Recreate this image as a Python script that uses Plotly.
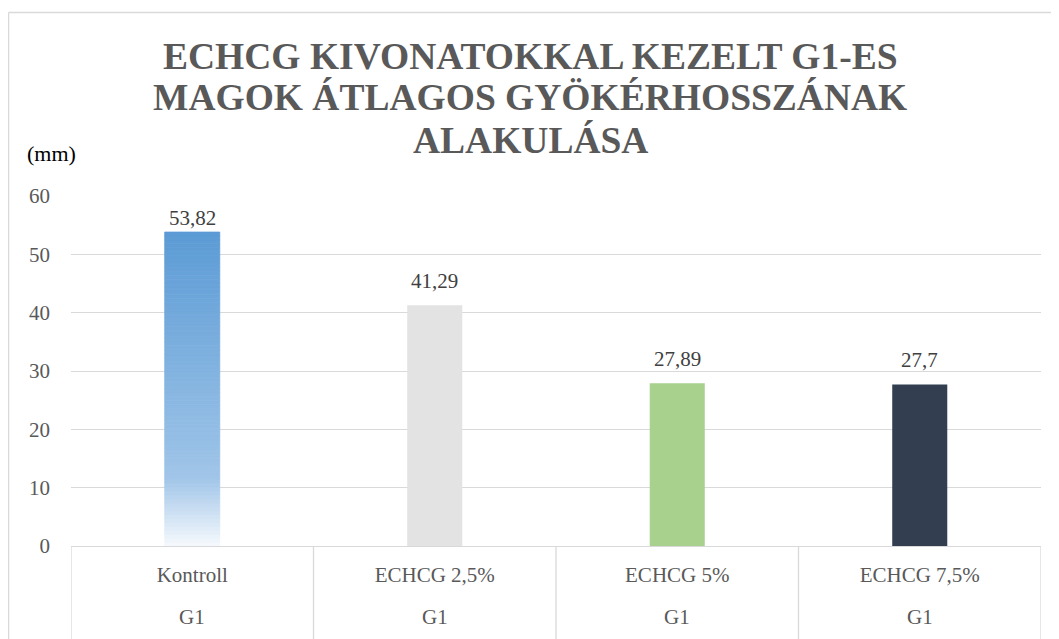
import plotly.graph_objects as go

categories = ["Kontroll", "ECHCG 2,5%", "ECHCG 5%", "ECHCG 7,5%"]
group_labels = ["G1", "G1", "G1", "G1"]
values = [53.82, 41.29, 27.89, 27.7]
bar_colors = ["#5b9bd5", "#e3e3e3", "#a9d18e", "#333f50"]
y_ticks = [0, 10, 20, 30, 40, 50, 60]

title_lines = ["ECHCG KIVONATOKKAL KEZELT G1-ES",
               "MAGOK ÁTLAGOS GYÖKÉRHOSSZÁNAK",
               "ALAKULÁSA"]
unit_text = "(mm)"

FONT = "Liberation Serif, Times New Roman, serif"
OFF = 8  # page body margin
W, H = 1059 - OFF, 639 - OFF
L, R, T, B = 71 - OFF, 18, 196 - OFF, 93
PW, PH = W - L - R, H - T - B
BAR_W = 0.227

def px_x(x):   # reference pixel x -> paper
    return (x - OFF - L) / PW

def px_y(y):   # reference pixel y -> paper
    return (H - B - (y - OFF)) / PH

fig = go.Figure()

fig.add_trace(go.Bar(
    x=categories[1:], y=values[1:], width=BAR_W,
    marker=dict(color=bar_colors[1:], line=dict(width=0)),
    hoverinfo="skip", showlegend=False,
))

# gradient bar for Kontroll: stacked thin slices of the same value
N = 80
v0 = values[0]
def grad_color(f):
    top = (91, 155, 213)
    mid = (160, 197, 232)
    bot = (246, 250, 253)
    if f < 0.22:
        t = f / 0.22
        a, b = bot, mid
    else:
        t = (f - 0.22) / 0.78
        a, b = mid, top
    c = [round(a[i] + (b[i] - a[i]) * t) for i in range(3)]
    return "rgb(%d,%d,%d)" % tuple(c)

seg_cols = [grad_color((i + 0.5) / N) for i in range(N)]
fig.add_trace(go.Bar(
    x=[categories[0]] * N,
    base=[v0 * i / N for i in range(N)],
    y=[v0 / N] * N,
    width=BAR_W,
    marker=dict(color=seg_cols, line=dict(width=0.8, color=seg_cols)),
    hoverinfo="skip", showlegend=False,
))

# data labels
label_shift = [4, 14, 14, 14]
for c, v, s in zip(categories, values, label_shift):
    fig.add_annotation(
        x=c, y=v, xref="x", yref="y", yanchor="bottom", yshift=s - 4,
        text=("%g" % v).replace(".", ","), showarrow=False,
        font=dict(family=FONT, size=21, color="#404040"),
    )

# second-level category labels
for i, g in enumerate(group_labels):
    fig.add_annotation(
        x=i, y=px_y(617), xref="x", yref="paper",
        text=g, showarrow=False, yanchor="middle",
        font=dict(family=FONT, size=21, color="#595959"),
    )

axis_col = "#d9d9d9"
for i in range(len(categories) + 1):
    fig.add_shape(type="line", xref="x", yref="paper",
                  x0=i - 0.5, x1=i - 0.5, y0=0, y1=-0.4,
                  line=dict(color=axis_col, width=1.3))

# chart outer border (top and left)
fig.add_shape(type="line", xref="paper", yref="paper",
              x0=px_x(8.5), x1=1.2, y0=px_y(12.5), y1=px_y(12.5),
              line=dict(color=axis_col, width=1.5))
fig.add_shape(type="line", xref="paper", yref="paper",
              x0=px_x(8.5), x1=px_x(8.5), y0=px_y(12.5), y1=-0.5,
              line=dict(color=axis_col, width=1.5))

# title, one annotation per line
for line, yc in zip(title_lines, [56, 98, 140]):
    fig.add_annotation(
        x=px_x(530), y=px_y(yc), xref="paper", yref="paper",
        xanchor="center", yanchor="middle", showarrow=False,
        text="<b>" + line + "</b>",
        font=dict(family=FONT, size=37.5, color="#595959"),
    )

fig.add_annotation(
    x=px_x(25), y=px_y(153), xref="paper", yref="paper",
    xanchor="left", yanchor="middle",
    text=unit_text, showarrow=False,
    font=dict(family=FONT, size=22, color="#000000"),
)

fig.update_layout(
    width=W, height=H,
    margin=dict(l=L, r=R, t=T, b=B),
    paper_bgcolor="white", plot_bgcolor="white",
    barmode="overlay",
    xaxis=dict(
        type="category", categoryorder="array", categoryarray=categories,
        range=[-0.5, len(categories) - 0.5],
        showgrid=False, zeroline=False, showline=True, linecolor=axis_col, linewidth=1.3,
        ticks="", ticklabelstandoff=10,
        tickfont=dict(family=FONT, size=21, color="#595959"),
    ),
    yaxis=dict(
        range=[0, 60], tickvals=y_ticks, showgrid=True, gridcolor=axis_col, gridwidth=1,
        zeroline=False, showline=False, ticks="", ticklabelstandoff=20,
        tickfont=dict(family=FONT, size=21, color="#595959"),
    ),
)

fig.write_html("out.html")
